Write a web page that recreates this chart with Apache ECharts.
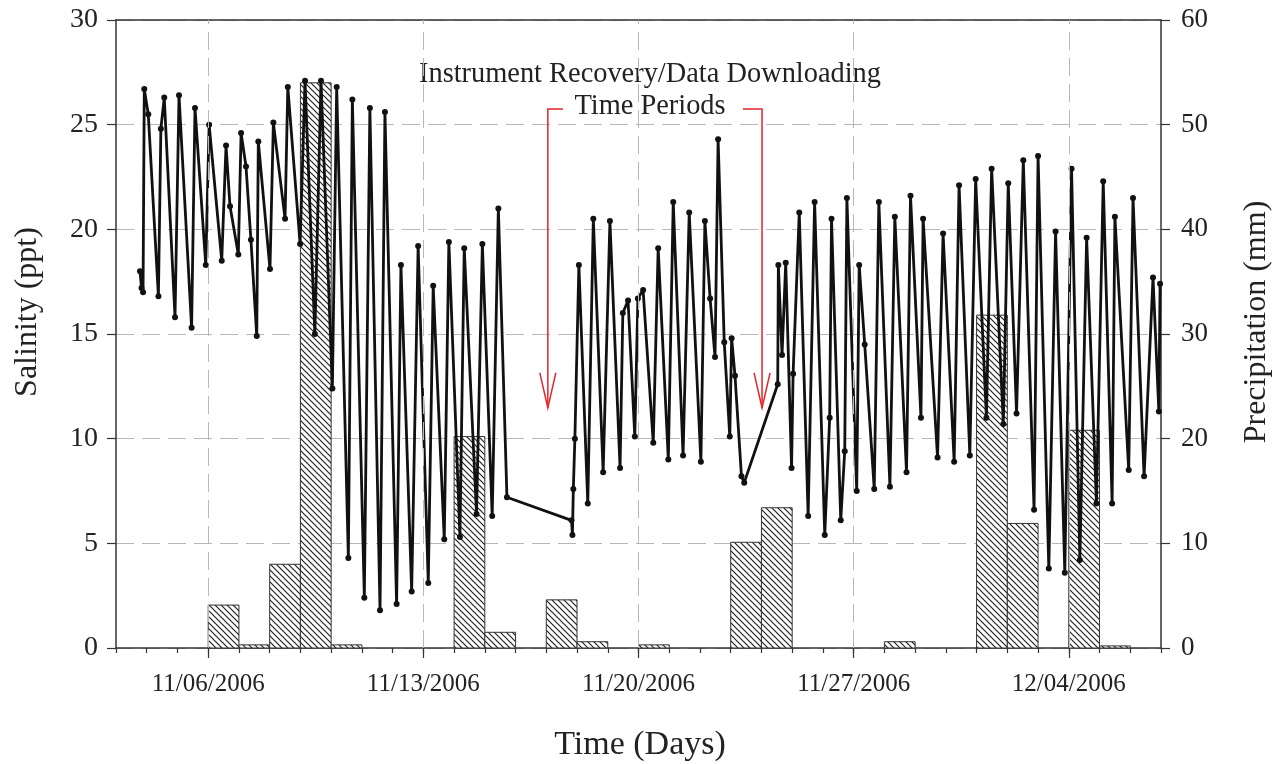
<!DOCTYPE html>
<html>
<head>
<meta charset="utf-8">
<script src="https://cdn.jsdelivr.net/npm/echarts@6/dist/echarts.min.js"></script>
<style>
  html, body { margin: 0; padding: 0; background: #fff; }
  #chart { width: 1283px; height: 764px; }
</style>
</head>
<body>
<div id="chart"></div>
<script>
// Time is counted in days from 11/03/2006 00:00.
const labelDays = [3, 10, 17, 24, 31];
const dateLabels = ['11/06/2006', '11/13/2006', '11/20/2006', '11/27/2006', '12/04/2006'];

// Daily precipitation (mm); each bar covers one full day.
const precipDays = [3, 4, 5, 6, 7, 11, 12, 14, 15, 17, 20, 21, 25, 28, 29, 31, 32];
const precipitation = [4.1, 0.3, 8.0, 54.0, 0.3, 20.2, 1.5, 4.6, 0.6, 0.3, 10.1, 13.4, 0.6, 31.8, 11.9, 20.8, 0.2];

// Salinity record (ppt), tidal highs and lows.
const salDays = [
  0.78, 0.83, 0.88, 0.92, 1.05, 1.38, 1.46, 1.57, 1.92, 2.05,
  2.46, 2.57, 2.92, 3.03, 3.44, 3.58, 3.71, 3.98, 4.07, 4.23,
  4.39, 4.58, 4.63, 5.01, 5.12, 5.50, 5.59, 5.99, 6.15, 6.47,
  6.67, 7.04, 7.18, 7.56, 7.69, 8.08, 8.26, 8.59, 8.75, 9.13,
  9.27, 9.62, 9.83, 10.16, 10.32, 10.68, 10.83, 11.19, 11.33, 11.73,
  11.92, 12.24, 12.44, 12.72,
  14.82, 14.85, 14.88, 14.93, 15.06, 15.35, 15.53, 15.85, 16.07, 16.40,
  16.49, 16.66, 16.88, 16.98, 17.15, 17.48, 17.64, 17.97, 18.13, 18.45,
  18.65, 19.03, 19.16, 19.33, 19.49, 19.59, 19.79, 19.97, 20.03, 20.14,
  20.35, 20.44,
  21.53, 21.55, 21.67, 21.79, 21.98, 22.03, 22.23, 22.52, 22.73, 23.06,
  23.22, 23.28, 23.58, 23.71, 23.78, 24.10, 24.18, 24.36, 24.67, 24.82,
  25.18, 25.34, 25.72, 25.85, 26.19, 26.26, 26.73, 26.91, 27.27, 27.43,
  27.78, 27.97, 28.32, 28.49, 28.87, 29.03, 29.30, 29.52, 29.87, 30.00,
  30.35, 30.57, 30.87, 31.09, 31.36, 31.58, 31.90, 32.12, 32.41, 32.50,
  32.95, 33.09, 33.45, 33.74, 33.93, 33.97
];
const salinity = [
  18.0, 17.2, 17.0, 26.7, 25.5, 16.8, 24.8, 26.3, 15.8, 26.4,
  15.3, 25.8, 18.3, 25.0, 18.5, 24.0, 21.1, 18.8, 24.6, 23.0,
  19.5, 14.9, 24.2, 18.1, 25.1, 20.5, 26.8, 19.3, 27.1, 15.0,
  27.1, 12.4, 26.8, 4.3, 26.2, 2.4, 25.8, 1.8, 25.6, 2.1,
  18.3, 2.7, 19.2, 3.1, 17.3, 5.2, 19.4, 5.3, 19.1, 6.4,
  19.3, 6.3, 21.0, 7.2,
  6.1, 5.4, 7.6, 10.0, 18.3, 6.9, 20.5, 8.4, 20.4, 8.6,
  16.0, 16.6, 10.1, 16.7, 17.1, 9.8, 19.1, 9.0, 21.3, 9.2,
  20.8, 8.9, 20.4, 16.7, 13.9, 24.3, 14.6, 10.1, 14.8, 13.0,
  8.2, 7.9,
  12.6, 18.3, 14.0, 18.4, 8.6, 13.1, 20.8, 6.3, 21.3, 5.4,
  11.0, 20.5, 6.1, 9.4, 21.5, 7.5, 18.3, 14.5, 7.6, 21.3,
  7.7, 20.6, 8.4, 21.6, 11.0, 20.5, 9.1, 19.8, 8.9, 22.1,
  9.2, 22.4, 11.0, 22.9, 10.7, 22.2, 11.2, 23.3, 6.6, 23.5,
  3.8, 19.9, 3.6, 22.9, 4.2, 19.6, 6.9, 22.3, 6.9, 20.6,
  8.5, 21.5, 8.2, 17.7, 11.3, 17.4
];

// Recovery / downloading periods marked with red arrows: [bracket corner day, bracket end day]
const recoveryArrows = [[14.05, 14.54], [21.02, 20.40]];
const arrowTopValue = 25.75;
const arrowTipValue = 11.47;

const FONT = '"Liberation Serif", "Times New Roman", serif';
const INK = '#222';
const AXIS = '#333';

// Diagonal hatch for the precipitation bars
function makeHatch() {
  const s = 6;
  const c = document.createElement('canvas');
  c.width = s; c.height = s;
  const g = c.getContext('2d');
  g.fillStyle = '#fff';
  g.fillRect(0, 0, s, s);
  g.strokeStyle = '#222';
  g.lineWidth = 1.2;
  g.beginPath();
  g.moveTo(-1, -1); g.lineTo(s + 1, s + 1);
  g.moveTo(-1, s - 1); g.lineTo(1, s + 1);
  g.moveTo(s - 1, -1); g.lineTo(s + 1, 1);
  g.stroke();
  return c;
}
const hatch = makeHatch();

const chart = echarts.init(document.getElementById('chart'), null, { renderer: 'canvas' });

const salData = salDays.map((d, i) => [d, salinity[i]]);
const precipData = precipDays.map((d, i) => [d, precipitation[i]]);

chart.setOption({
  animation: false,
  backgroundColor: '#fff',
  grid: { left: 116, right: 122, top: 20, bottom: 116, containLabel: false },
  xAxis: [
    {
      type: 'value', min: 0, max: 34, interval: 1, position: 'bottom',
      axisLine: { show: true, onZero: false, lineStyle: { color: AXIS, width: 1.5 } },
      axisTick: { show: true, inside: false, length: 5, lineStyle: { color: AXIS, width: 1.2 } },
      axisLabel: {
        customValues: labelDays,
        formatter: v => { const i = labelDays.indexOf(Math.round(v)); return i >= 0 ? dateLabels[i] : ''; },
        fontFamily: FONT, fontSize: 25, color: INK, margin: 24
      },
      splitLine: { show: false }
    },
    {
      type: 'value', min: 0, max: 34, position: 'bottom',
      axisLine: { show: false },
      axisTick: { show: true, customValues: labelDays, inside: false, length: 10, lineStyle: { color: AXIS, width: 1.2 } },
      axisLabel: { show: false },
      splitLine: { show: false }
    },
    {
      type: 'value', min: 0, max: 34, position: 'top',
      axisLine: { show: true, onZero: false, lineStyle: { color: AXIS, width: 1.5 } },
      axisTick: { show: false }, axisLabel: { show: false }, splitLine: { show: false }
    }
  ],
  yAxis: [
    {
      type: 'value', min: 0, max: 30, interval: 5, position: 'left',
      axisLine: { show: true, onZero: false, lineStyle: { color: AXIS, width: 1.5 } },
      axisTick: { show: true, inside: false, length: 9, lineStyle: { color: AXIS, width: 1.2 } },
      axisLabel: { fontFamily: FONT, fontSize: 28, color: INK, margin: 18 },
      splitLine: { show: true, lineStyle: { color: '#b8b8b8', width: 1, type: [18, 8] } }
    },
    {
      type: 'value', min: 0, max: 60, interval: 10, position: 'right',
      axisLine: { show: true, onZero: false, lineStyle: { color: AXIS, width: 1.5 } },
      axisTick: { show: true, inside: false, length: 9, lineStyle: { color: AXIS, width: 1.2 } },
      axisLabel: { fontFamily: FONT, fontSize: 27, color: INK, margin: 20 },
      splitLine: { show: false }
    }
  ],
  series: [
    {
      // vertical date grid lines
      type: 'line', xAxisIndex: 0, yAxisIndex: 0, data: [], z: 1, silent: true,
      markLine: {
        silent: true, symbol: 'none', animation: false,
        label: { show: false },
        lineStyle: { color: '#b8b8b8', width: 1, type: [18, 8] },
        data: labelDays.map(d => ({ xAxis: d }))
      }
    },
    {
      name: 'Precipitation', type: 'custom', xAxisIndex: 0, yAxisIndex: 1, z: 2,
      data: precipData,
      renderItem: (params, api) => {
        const d = api.value(0), v = api.value(1);
        const top = api.coord([d, v]);
        const bot = api.coord([d + 1, 0]);
        return {
          type: 'rect',
          shape: { x: top[0], y: top[1], width: bot[0] - top[0], height: bot[1] - top[1] },
          style: { fill: { image: hatch, repeat: 'repeat' }, stroke: '#333', lineWidth: 1 }
        };
      }
    },
    {
      name: 'Salinity', type: 'line', xAxisIndex: 0, yAxisIndex: 0, z: 3,
      data: salData,
      symbol: 'circle', symbolSize: 6, showAllSymbol: true,
      itemStyle: { color: '#111' },
      lineStyle: { color: '#111', width: 2.8 }
    }
  ]
});

// Axis titles, annotation text and red bracket arrows
const toPx = p => chart.convertToPixel({ xAxisIndex: 0, yAxisIndex: 0 }, p);
const graphics = [
  { type: 'text', x: 28, y: 312, rotation: Math.PI / 2,
    style: { text: 'Salinity (ppt)', font: '32px ' + FONT, fill: INK, textAlign: 'center', textVerticalAlign: 'middle' } },
  { type: 'text', x: 1257, y: 322, rotation: Math.PI / 2,
    style: { text: 'Precipitation (mm)', font: '32px ' + FONT, fill: INK, textAlign: 'center', textVerticalAlign: 'middle' } },
  { type: 'text', x: 640, y: 745,
    style: { text: 'Time (Days)', font: '34px ' + FONT, fill: INK, textAlign: 'center', textVerticalAlign: 'middle' } },
  { type: 'text', x: 650, y: 75,
    style: { text: 'Instrument Recovery/Data Downloading', font: '28.4px ' + FONT, fill: INK, textAlign: 'center', textVerticalAlign: 'middle' } },
  { type: 'text', x: 650, y: 107,
    style: { text: 'Time Periods', font: '28.4px ' + FONT, fill: INK, textAlign: 'center', textVerticalAlign: 'middle' } }
];
recoveryArrows.forEach(([dayCorner, dayEnd]) => {
  const corner = toPx([dayCorner, arrowTopValue]);
  const end = toPx([dayEnd, arrowTopValue]);
  const tip = toPx([dayCorner, arrowTipValue]);
  const red = { stroke: '#e3262b', lineWidth: 1.5, fill: null };
  graphics.push({ type: 'polyline', shape: { points: [end, corner, tip] }, style: red });
  graphics.push({ type: 'polyline', shape: { points: [[tip[0] - 8, tip[1] - 35], tip, [tip[0] + 8, tip[1] - 35]] }, style: red });
});
chart.setOption({ graphic: graphics });
</script>
</body>
</html>
